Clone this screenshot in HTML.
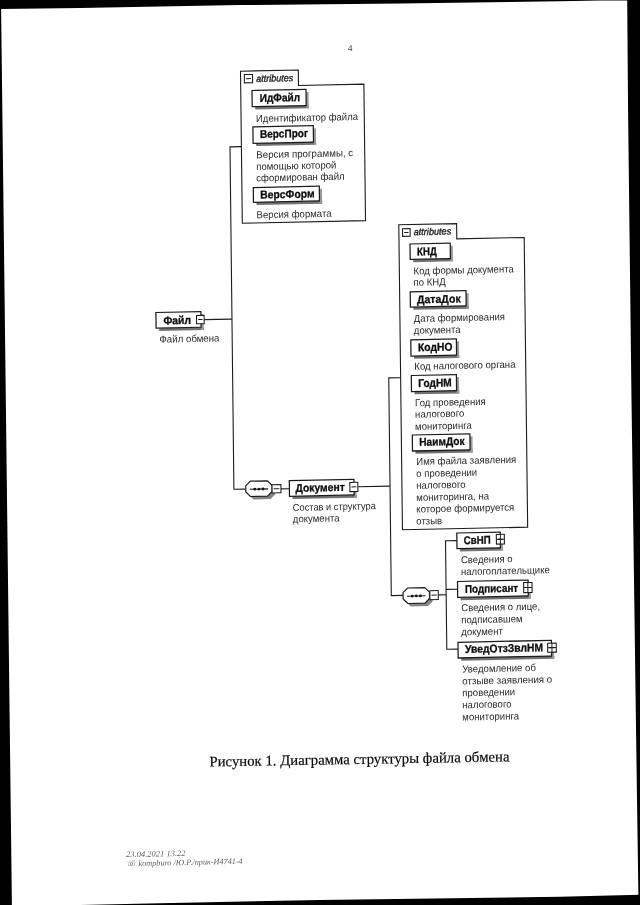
<!DOCTYPE html>
<html lang="ru"><head><meta charset="utf-8"><title>Рисунок 1. Диаграмма структуры файла обмена</title>
<style>
html,body{margin:0;padding:0;background:#fff}
body{width:640px;height:905px;overflow:hidden}
svg{display:block;filter:grayscale(1)}
text{font-family:"Liberation Sans",sans-serif}
text.sf{font-family:"Liberation Serif",serif}
</style></head><body>
<svg width="640" height="905" viewBox="0 0 640 905">
<rect width="640" height="905" fill="#fff"/>
<path d="M204 319.6 L231.8 319.1" fill="none" stroke="#1c1c1c" stroke-width="1.1"/>
<path d="M241.5 146.6 L230 146.9 L233.9 489.3 L245.2 489.1" fill="none" stroke="#1c1c1c" stroke-width="1.1"/>
<path d="M281 488.9 L289.3 488.7" fill="none" stroke="#1c1c1c" stroke-width="1.1"/>
<path d="M357.8 486.7 L389.9 486.1" fill="none" stroke="#1c1c1c" stroke-width="1.1"/>
<path d="M400 377.7 L388.75 377.9 L391.3 595.6 L403 595.4" fill="none" stroke="#1c1c1c" stroke-width="1.1"/>
<path d="M438.2 594.9 L446.2 594.8" fill="none" stroke="#1c1c1c" stroke-width="1.1"/>
<path d="M457 540.6 L445.5 540.8 L446.8 649.3 L458.3 649.1" fill="none" stroke="#1c1c1c" stroke-width="1.1"/>
<path d="M446.1 589.4 L457.8 589.2" fill="none" stroke="#1c1c1c" stroke-width="1.1"/>
<g transform="matrix(1,-0.021,0.012,1,240.5,71.2)"><path d="M0 0H57.8V15.5H123.2V152H0z" fill="#fff" stroke="#1c1c1c" stroke-width="1.1"/></g>
<g transform="matrix(1,-0.021,0.012,1,244.3,74.6)"><rect x="0" y="0" width="8.2" height="8.3" fill="#fff" stroke="#1c1c1c" stroke-width="1.05"/><path d="M1.6 4.15H6.6" stroke="#1c1c1c" stroke-width="1"/></g>
<g transform="matrix(0.94,-0.01974,0.012,1,256.2,81.89999999999999)"><text x="0" y="0" font-size="9.6" textLength="39.36" lengthAdjust="spacingAndGlyphs" font-style="italic" fill="#1a1a1a" stroke="#1a1a1a" stroke-width="0.35">attributes</text></g>
<g transform="matrix(1,-0.021,0.012,1,252,90.5)"><rect x="3" y="16.2" width="53.7" height="2.8" fill="#727272"/><rect x="54" y="2.6" width="2.6" height="16.3" fill="#9c9c9c"/><rect x="0" y="0" width="54" height="16.2" fill="#fff" stroke="#1c1c1c" stroke-width="1.25"/></g>
<g transform="matrix(0.936,-0.01966,0.012,1,259.7,101.9)"><text x="0" y="0" font-size="11.3" textLength="43.27" lengthAdjust="spacingAndGlyphs" font-weight="bold" fill="#0c0c0c" stroke="#0c0c0c" stroke-width="0.3">ИдФайл</text></g>
<g transform="matrix(0.95,-0.01995,0.012,1,256.0,122.1)"><text x="0" y="0" font-size="10.1" textLength="107.37" lengthAdjust="spacingAndGlyphs" fill="#2a2a2a">Идентификатор файла</text></g>
<g transform="matrix(1,-0.021,0.012,1,252.9,126.89999999999999)"><rect x="3" y="16.4" width="60.1" height="2.8" fill="#727272"/><rect x="60.4" y="2.6" width="2.6" height="16.5" fill="#9c9c9c"/><rect x="0" y="0" width="60.4" height="16.4" fill="#fff" stroke="#1c1c1c" stroke-width="1.25"/></g>
<g transform="matrix(0.936,-0.01966,0.012,1,259.9,138.0)"><text x="0" y="0" font-size="11.3" textLength="51.50" lengthAdjust="spacingAndGlyphs" font-weight="bold" fill="#0c0c0c" stroke="#0c0c0c" stroke-width="0.3">ВерсПрог</text></g>
<g transform="matrix(0.95,-0.01995,0.012,1,256.2,158.20000000000002)"><text x="0" y="0" font-size="10.1" textLength="102.11" lengthAdjust="spacingAndGlyphs" fill="#2a2a2a">Версия программы, с</text></g>
<g transform="matrix(0.95,-0.01995,0.012,1,256.2,170.0)"><text x="0" y="0" font-size="10.1" fill="#2a2a2a">помощью которой</text></g>
<g transform="matrix(0.95,-0.01995,0.012,1,256.2,181.4)"><text x="0" y="0" font-size="10.1" fill="#2a2a2a">сформирован файл</text></g>
<g transform="matrix(1,-0.021,0.012,1,253.3,187.6)"><rect x="3" y="14.700000000000001" width="65.7" height="2.8" fill="#727272"/><rect x="66" y="2.6" width="2.6" height="14.8" fill="#9c9c9c"/><rect x="0" y="0" width="66" height="14.700000000000001" fill="#fff" stroke="#1c1c1c" stroke-width="1.25"/></g>
<g transform="matrix(0.936,-0.01966,0.012,1,260.2,198.6)"><text x="0" y="0" font-size="11.3" textLength="58.23" lengthAdjust="spacingAndGlyphs" font-weight="bold" fill="#0c0c0c" stroke="#0c0c0c" stroke-width="0.3">ВерсФорм</text></g>
<g transform="matrix(0.95,-0.01995,0.012,1,256.6,218.3)"><text x="0" y="0" font-size="10.1" textLength="78.95" lengthAdjust="spacingAndGlyphs" fill="#2a2a2a">Версия формата</text></g>
<g transform="matrix(1,-0.021,0.012,1,155.9,312.5)"><rect x="3" y="15.700000000000001" width="44.7" height="2.8" fill="#727272"/><rect x="45" y="2.6" width="2.6" height="15.8" fill="#9c9c9c"/><rect x="0" y="0" width="45" height="15.700000000000001" fill="#fff" stroke="#1c1c1c" stroke-width="1.25"/></g>
<g transform="matrix(0.936,-0.01966,0.012,1,163.4,324.4)"><text x="0" y="0" font-size="11.3" textLength="29.49" lengthAdjust="spacingAndGlyphs" font-weight="bold" fill="#0c0c0c" stroke="#0c0c0c" stroke-width="0.3">Файл</text></g>
<g transform="matrix(1,-0.021,0.012,1,196.5,315.5)"><rect x="0" y="0" width="7.6" height="8.3" fill="#fff" stroke="#1c1c1c" stroke-width="1.05"/><path d="M1.6 4.15H6.0" stroke="#1c1c1c" stroke-width="1"/></g>
<g transform="matrix(0.95,-0.01995,0.012,1,159.5,342.7)"><text x="0" y="0" font-size="10.1" textLength="63.16" lengthAdjust="spacingAndGlyphs" fill="#2a2a2a">Файл обмена</text></g>
<g transform="matrix(1,-0.021,0.012,1,245.7,481.3)"><g transform="translate(3,3)"><path d="M4.6 0H21.700000000000003L26.3 4.6V10.700000000000001L21.700000000000003 15.3H4.6L0 10.700000000000001V4.6z" fill="#858585"/></g><path d="M4.6 0H21.700000000000003L26.3 4.6V10.700000000000001L21.700000000000003 15.3H4.6L0 10.700000000000001V4.6z" fill="#fff" stroke="#1c1c1c" stroke-width="1.2"/><path d="M4 8.05H22.3" stroke="#1c1c1c" stroke-width="1.05"/><circle cx="9.05" cy="8.05" r="1.4" fill="#111"/><circle cx="13.15" cy="8.05" r="1.4" fill="#111"/><circle cx="17.25" cy="8.05" r="1.4" fill="#111"/></g>
<g transform="matrix(1,-0.021,0.012,1,272.0,484.8)"><rect x="0" y="0" width="8.9" height="8.2" fill="#fff" stroke="#1c1c1c" stroke-width="1.05"/><path d="M1.6 4.1H7.300000000000001" stroke="#1c1c1c" stroke-width="1"/></g>
<g transform="matrix(1,-0.021,0.012,1,289.3,480.70000000000005)"><rect x="3" y="15.6" width="64.3" height="2.8" fill="#727272"/><rect x="64.6" y="2.6" width="2.6" height="15.7" fill="#9c9c9c"/><rect x="0" y="0" width="64.6" height="15.6" fill="#fff" stroke="#1c1c1c" stroke-width="1.25"/></g>
<g transform="matrix(0.936,-0.01966,0.012,1,295.4,491.9)"><text x="0" y="0" font-size="11.3" textLength="52.88" lengthAdjust="spacingAndGlyphs" font-weight="bold" fill="#0c0c0c" stroke="#0c0c0c" stroke-width="0.3">Документ</text></g>
<g transform="matrix(1,-0.021,0.012,1,349.8,482.4)"><rect x="0" y="0" width="8" height="9.2" fill="#fff" stroke="#1c1c1c" stroke-width="1.05"/><path d="M1.6 4.6H6.4" stroke="#1c1c1c" stroke-width="1"/></g>
<g transform="matrix(0.95,-0.01995,0.012,1,292.8,511.0)"><text x="0" y="0" font-size="10.1" textLength="87.37" lengthAdjust="spacingAndGlyphs" fill="#2a2a2a">Состав и структура</text></g>
<g transform="matrix(0.95,-0.01995,0.012,1,292.8,522.4)"><text x="0" y="0" font-size="10.1" fill="#2a2a2a">документа</text></g>
<g transform="matrix(1,-0.021,0.012,1,398.8,224.8)"><path d="M0 0H57.8V15.3H125.2V305H0z" fill="#fff" stroke="#1c1c1c" stroke-width="1.1"/></g>
<g transform="matrix(1,-0.021,0.012,1,402.5,228.8)"><rect x="0" y="0" width="7.6" height="7.6" fill="#fff" stroke="#1c1c1c" stroke-width="1.05"/><path d="M1.6 3.8H6.0" stroke="#1c1c1c" stroke-width="1"/></g>
<g transform="matrix(0.94,-0.01974,0.012,1,413.7,235.2)"><text x="0" y="0" font-size="9.6" textLength="39.89" lengthAdjust="spacingAndGlyphs" font-style="italic" fill="#1a1a1a" stroke="#1a1a1a" stroke-width="0.35">attributes</text></g>
<g transform="matrix(1,-0.021,0.012,1,410,244.0)"><rect x="3" y="15.4" width="39.900000000000006" height="2.8" fill="#727272"/><rect x="40.2" y="2.6" width="2.6" height="15.5" fill="#9c9c9c"/><rect x="0" y="0" width="40.2" height="15.4" fill="#fff" stroke="#1c1c1c" stroke-width="1.25"/></g>
<g transform="matrix(0.936,-0.01966,0.012,1,417,255.4)"><text x="0" y="0" font-size="11.3" textLength="21.15" lengthAdjust="spacingAndGlyphs" font-weight="bold" fill="#0c0c0c" stroke="#0c0c0c" stroke-width="0.3">КНД</text></g>
<g transform="matrix(0.95,-0.01995,0.012,1,413.6,274.40000000000003)"><text x="0" y="0" font-size="10.1" textLength="105.47" lengthAdjust="spacingAndGlyphs" fill="#2a2a2a">Код формы документа</text></g>
<g transform="matrix(0.95,-0.01995,0.012,1,413.6,285.8)"><text x="0" y="0" font-size="10.1" fill="#2a2a2a">по КНД</text></g>
<g transform="matrix(1,-0.021,0.012,1,410.2,291.8)"><rect x="3" y="15.299999999999999" width="55.5" height="2.8" fill="#727272"/><rect x="55.8" y="2.6" width="2.6" height="15.399999999999999" fill="#9c9c9c"/><rect x="0" y="0" width="55.8" height="15.299999999999999" fill="#fff" stroke="#1c1c1c" stroke-width="1.25"/></g>
<g transform="matrix(0.936,-0.01966,0.012,1,417,303.4)"><text x="0" y="0" font-size="11.3" textLength="46.69" lengthAdjust="spacingAndGlyphs" font-weight="bold" fill="#0c0c0c" stroke="#0c0c0c" stroke-width="0.3">ДатаДок</text></g>
<g transform="matrix(0.95,-0.01995,0.012,1,413.8,322.0)"><text x="0" y="0" font-size="10.1" fill="#2a2a2a">Дата формирования</text></g>
<g transform="matrix(0.95,-0.01995,0.012,1,413.8,333.8)"><text x="0" y="0" font-size="10.1" fill="#2a2a2a">документа</text></g>
<g transform="matrix(1,-0.021,0.012,1,410.8,339.90000000000003)"><rect x="3" y="16.2" width="45.300000000000004" height="2.8" fill="#727272"/><rect x="45.6" y="2.6" width="2.6" height="16.3" fill="#9c9c9c"/><rect x="0" y="0" width="45.6" height="16.2" fill="#fff" stroke="#1c1c1c" stroke-width="1.25"/></g>
<g transform="matrix(0.936,-0.01966,0.012,1,418,351.2)"><text x="0" y="0" font-size="11.3" textLength="36.86" lengthAdjust="spacingAndGlyphs" font-weight="bold" fill="#0c0c0c" stroke="#0c0c0c" stroke-width="0.3">КодНО</text></g>
<g transform="matrix(0.95,-0.01995,0.012,1,414.3,369.8)"><text x="0" y="0" font-size="10.1" textLength="106.53" lengthAdjust="spacingAndGlyphs" fill="#2a2a2a">Код налогового органа</text></g>
<g transform="matrix(1,-0.021,0.012,1,411.3,375.5)"><rect x="3" y="16.099999999999998" width="44.800000000000004" height="2.8" fill="#727272"/><rect x="45.1" y="2.6" width="2.6" height="16.2" fill="#9c9c9c"/><rect x="0" y="0" width="45.1" height="16.099999999999998" fill="#fff" stroke="#1c1c1c" stroke-width="1.25"/></g>
<g transform="matrix(0.936,-0.01966,0.012,1,418.3,387.0)"><text x="0" y="0" font-size="11.3" textLength="35.79" lengthAdjust="spacingAndGlyphs" font-weight="bold" fill="#0c0c0c" stroke="#0c0c0c" stroke-width="0.3">ГодНМ</text></g>
<g transform="matrix(0.95,-0.01995,0.012,1,415.1,406.3)"><text x="0" y="0" font-size="10.1" fill="#2a2a2a">Год проведения</text></g>
<g transform="matrix(0.95,-0.01995,0.012,1,415.1,417.7)"><text x="0" y="0" font-size="10.1" fill="#2a2a2a">налогового</text></g>
<g transform="matrix(0.95,-0.01995,0.012,1,415.1,429.90000000000003)"><text x="0" y="0" font-size="10.1" fill="#2a2a2a">мониторинга</text></g>
<g transform="matrix(1,-0.021,0.012,1,412.3,435.0)"><rect x="3" y="16.0" width="57.300000000000004" height="2.8" fill="#727272"/><rect x="57.6" y="2.6" width="2.6" height="16.1" fill="#9c9c9c"/><rect x="0" y="0" width="57.6" height="16.0" fill="#fff" stroke="#1c1c1c" stroke-width="1.25"/></g>
<g transform="matrix(0.936,-0.01966,0.012,1,419.2,445.79999999999995)"><text x="0" y="0" font-size="11.3" textLength="48.61" lengthAdjust="spacingAndGlyphs" font-weight="bold" fill="#0c0c0c" stroke="#0c0c0c" stroke-width="0.3">НаимДок</text></g>
<g transform="matrix(0.95,-0.01995,0.012,1,416.3,464.90000000000003)"><text x="0" y="0" font-size="10.1" textLength="105.26" lengthAdjust="spacingAndGlyphs" fill="#2a2a2a">Имя файла заявления</text></g>
<g transform="matrix(0.95,-0.01995,0.012,1,416.3,477.0)"><text x="0" y="0" font-size="10.1" fill="#2a2a2a">о проведении</text></g>
<g transform="matrix(0.95,-0.01995,0.012,1,416.3,488.8)"><text x="0" y="0" font-size="10.1" fill="#2a2a2a">налогового</text></g>
<g transform="matrix(0.95,-0.01995,0.012,1,416.3,500.90000000000003)"><text x="0" y="0" font-size="10.1" fill="#2a2a2a">мониторинга, на</text></g>
<g transform="matrix(0.95,-0.01995,0.012,1,416.3,512.6)"><text x="0" y="0" font-size="10.1" textLength="103.16" lengthAdjust="spacingAndGlyphs" fill="#2a2a2a">которое формируется</text></g>
<g transform="matrix(0.95,-0.01995,0.012,1,416.3,524.5999999999999)"><text x="0" y="0" font-size="10.1" fill="#2a2a2a">отзыв</text></g>
<g transform="matrix(1,-0.021,0.012,1,403,588.1)"><g transform="translate(3,3)"><path d="M4.6 0H21.799999999999997L26.4 4.6V10.9L21.799999999999997 15.5H4.6L0 10.9V4.6z" fill="#858585"/></g><path d="M4.6 0H21.799999999999997L26.4 4.6V10.9L21.799999999999997 15.5H4.6L0 10.9V4.6z" fill="#fff" stroke="#1c1c1c" stroke-width="1.2"/><path d="M4 8.15H22.4" stroke="#1c1c1c" stroke-width="1.05"/><circle cx="9.1" cy="8.15" r="1.4" fill="#111"/><circle cx="13.2" cy="8.15" r="1.4" fill="#111"/><circle cx="17.299999999999997" cy="8.15" r="1.4" fill="#111"/></g>
<g transform="matrix(1,-0.021,0.012,1,429.8,590.7)"><rect x="0" y="0" width="8.4" height="9" fill="#fff" stroke="#1c1c1c" stroke-width="1.05"/><path d="M1.6 4.5H6.800000000000001" stroke="#1c1c1c" stroke-width="1"/></g>
<g transform="matrix(1,-0.021,0.012,1,456.8,533.0)"><rect x="3" y="15.700000000000001" width="43.1" height="2.8" fill="#727272"/><rect x="43.4" y="2.6" width="2.6" height="15.8" fill="#9c9c9c"/><rect x="0" y="0" width="43.4" height="15.700000000000001" fill="#fff" stroke="#1c1c1c" stroke-width="1.25"/></g>
<g transform="matrix(0.936,-0.01966,0.012,1,463.7,544.1999999999999)"><text x="0" y="0" font-size="11.3" textLength="28.85" lengthAdjust="spacingAndGlyphs" font-weight="bold" fill="#0c0c0c" stroke="#0c0c0c" stroke-width="0.3">СвНП</text></g>
<g transform="matrix(1,-0.021,0.012,1,496.3,534.5)"><rect x="0" y="0" width="8" height="9.6" fill="#fff" stroke="#1c1c1c" stroke-width="1.05"/><path d="M1.6 4.8H6.4" stroke="#1c1c1c" stroke-width="1"/><path d="M4.0 0V9.6M0 4.8H8" stroke="#1c1c1c" stroke-width="1"/></g>
<g transform="matrix(0.95,-0.01995,0.012,1,460.90000000000003,563.3)"><text x="0" y="0" font-size="10.1" fill="#2a2a2a">Сведения о</text></g>
<g transform="matrix(0.95,-0.01995,0.012,1,460.90000000000003,575.0999999999999)"><text x="0" y="0" font-size="10.1" fill="#2a2a2a">налогоплательщике</text></g>
<g transform="matrix(1,-0.021,0.012,1,457.5,581.5)"><rect x="3" y="15.9" width="70.3" height="2.8" fill="#727272"/><rect x="70.6" y="2.6" width="2.6" height="16.0" fill="#9c9c9c"/><rect x="0" y="0" width="70.6" height="15.9" fill="#fff" stroke="#1c1c1c" stroke-width="1.25"/></g>
<g transform="matrix(0.936,-0.01966,0.012,1,465,592.9)"><text x="0" y="0" font-size="11.3" textLength="56.84" lengthAdjust="spacingAndGlyphs" font-weight="bold" fill="#0c0c0c" stroke="#0c0c0c" stroke-width="0.3">Подписант</text></g>
<g transform="matrix(1,-0.021,0.012,1,523.6,582.6)"><rect x="0" y="0" width="8.4" height="10" fill="#fff" stroke="#1c1c1c" stroke-width="1.05"/><path d="M1.6 5.0H6.800000000000001" stroke="#1c1c1c" stroke-width="1"/><path d="M4.2 0V10M0 5.0H8.4" stroke="#1c1c1c" stroke-width="1"/></g>
<g transform="matrix(0.95,-0.01995,0.012,1,461.3,611.3)"><text x="0" y="0" font-size="10.1" fill="#2a2a2a">Сведения о лице,</text></g>
<g transform="matrix(0.95,-0.01995,0.012,1,461.3,623.3)"><text x="0" y="0" font-size="10.1" fill="#2a2a2a">подписавшем</text></g>
<g transform="matrix(0.95,-0.01995,0.012,1,461.3,635.3)"><text x="0" y="0" font-size="10.1" fill="#2a2a2a">документ</text></g>
<g transform="matrix(1,-0.021,0.012,1,458,642.3000000000001)"><rect x="3" y="15.700000000000001" width="93.10000000000001" height="2.8" fill="#727272"/><rect x="93.4" y="2.6" width="2.6" height="15.8" fill="#9c9c9c"/><rect x="0" y="0" width="93.4" height="15.700000000000001" fill="#fff" stroke="#1c1c1c" stroke-width="1.25"/></g>
<g transform="matrix(0.936,-0.01966,0.012,1,465,652.9)"><text x="0" y="0" font-size="11.3" textLength="83.55" lengthAdjust="spacingAndGlyphs" font-weight="bold" fill="#0c0c0c" stroke="#0c0c0c" stroke-width="0.3">УведОтзЗвлНМ</text></g>
<g transform="matrix(1,-0.021,0.012,1,547.6,643.3)"><rect x="0" y="0" width="8.6" height="9" fill="#fff" stroke="#1c1c1c" stroke-width="1.05"/><path d="M1.6 4.5H7.0" stroke="#1c1c1c" stroke-width="1"/><path d="M4.3 0V9M0 4.5H8.6" stroke="#1c1c1c" stroke-width="1"/></g>
<g transform="matrix(0.95,-0.01995,0.012,1,462.3,672.5)"><text x="0" y="0" font-size="10.1" fill="#2a2a2a">Уведомление об</text></g>
<g transform="matrix(0.95,-0.01995,0.012,1,462.3,684.5)"><text x="0" y="0" font-size="10.1" textLength="94.74" lengthAdjust="spacingAndGlyphs" fill="#2a2a2a">отзыве заявления о</text></g>
<g transform="matrix(0.95,-0.01995,0.012,1,462.3,696.3)"><text x="0" y="0" font-size="10.1" fill="#2a2a2a">проведении</text></g>
<g transform="matrix(0.95,-0.01995,0.012,1,462.3,708.3)"><text x="0" y="0" font-size="10.1" fill="#2a2a2a">налогового</text></g>
<g transform="matrix(0.95,-0.01995,0.012,1,462.3,720.5)"><text x="0" y="0" font-size="10.1" fill="#2a2a2a">мониторинга</text></g>
<path d="M0 0H628V0.4L600 0.5L560 1.3L400 3.6L240 5.1L80 8L0 9.1z" fill="#000"/>
<path d="M0 0H1.0L11.9 905H0z" fill="#000"/>
<path d="M627.2 0H640V905H638.6L638.4 895L636.9 792L633.1 513L631.5 400L628.1 113z" fill="#000"/>
<path d="M80 905L160 903.2L320 900L560 896.7L640 894.7V905z" fill="#000"/>
<g transform="matrix(1,-0.021,0.012,1,348,50.9)"><text x="0" y="0" class="sf" font-size="9" fill="#444">4</text></g>
<g transform="matrix(1,-0.0172,0.012,1,209.5,766.5)"><text x="0" y="0" class="sf" font-size="14.75" fill="#0a0a0a" stroke="#0a0a0a" stroke-width="0.2" textLength="300" lengthAdjust="spacingAndGlyphs">Рисунок 1. Диаграмма структуры файла обмена</text></g>
<g transform="matrix(1,-0.021,0.012,1,126,857.1)"><text x="0" y="0" class="sf" font-style="italic" font-size="8.3" fill="#606060" textLength="59.5" lengthAdjust="spacingAndGlyphs">23.04.2021 13.22</text></g>
<g transform="matrix(1,-0.021,0.012,1,126.4,866.2)"><text x="0" y="0" class="sf" font-style="italic" font-size="8.1" fill="#606060" textLength="116.3" lengthAdjust="spacingAndGlyphs">☏ kompburo /Ю.Р./прик-И4741-4</text></g>
</svg>
</body></html>
